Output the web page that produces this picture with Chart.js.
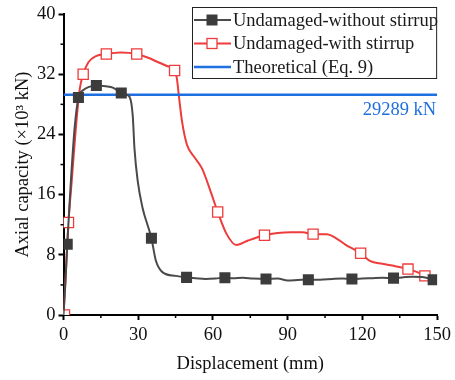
<!DOCTYPE html>
<html>
<head>
<meta charset="utf-8">
<script src="https://cdn.jsdelivr.net/npm/chart.js@4"></script>
<style>
  html, body { margin: 0; padding: 0; background: #fff; }
  #wrap { width: 455px; height: 380px; }
</style>
</head>
<body>
<div id="wrap"><canvas id="chart"></canvas></div>
<script>
// curve: undamaged, no stirrup
const blackX = [0, 0.8, 1.5, 3, 4.5, 6, 8, 10, 13.2, 17, 20, 23.2, 25, 26.5, 27.8, 28.5, 29.8, 31.7, 35.3, 37.1, 39.7, 45, 49.4, 53, 57, 61, 64.8, 68, 72, 76, 81.3, 86, 90, 94, 98.3, 103, 108, 112, 115.8, 120, 124, 128, 132.5, 136, 140, 144, 148.4];
const blackY = [0, 4.5, 9.4, 18, 25, 28.9, 29.9, 30.3, 30.5, 30.4, 30.2, 29.5, 29.3, 29.0, 26.5, 22.1, 17.8, 14.3, 10.2, 7.2, 5.7, 5.2, 5.0, 4.9, 4.8, 4.85, 4.96, 4.9, 4.95, 4.85, 4.8, 4.85, 4.6, 4.65, 4.7, 4.7, 4.8, 4.85, 4.8, 4.85, 4.9, 4.95, 4.9, 5.0, 5.1, 5.05, 4.7];
const blackMarkX = [1.5, 6, 13.2, 23.2, 35.3, 49.4, 64.8, 81.3, 98.3, 115.8, 132.5, 148.4];
const blackMarkY = [9.4, 28.9, 30.5, 29.5, 10.2, 5.0, 4.96, 4.8, 4.7, 4.8, 4.9, 4.7];

// curve: undamaged, with stirrup
const redX = [0, 1, 2, 3.3, 5, 6.5, 7.9, 10, 13, 17.2, 23, 29.4, 34, 38, 41.5, 44.6, 45.5, 46.3, 47.6, 49.6, 52.5, 55.6, 59.5, 61.9, 65.5, 69.4, 74.1, 80.7, 86, 91.3, 96, 100.2, 105.8, 109, 113, 119.3, 123, 128, 133, 138.3, 142, 145.1, 148.2];
const redY = [0, 6, 12.3, 17.8, 25, 30, 32, 33.6, 34.4, 34.7, 34.9, 34.7, 34.2, 33.6, 33.1, 32.5, 31.5, 29.2, 25.7, 22.6, 21.0, 19.5, 16.0, 13.7, 10.75, 9.3, 9.9, 10.6, 10.9, 11.0, 11.0, 10.75, 10.75, 10.3, 9.4, 8.2, 7.2, 6.8, 6.5, 6.1, 5.7, 5.2, 4.6];
const redMarkX = [0.4, 2.0, 7.9, 17.2, 29.4, 44.6, 61.9, 80.7, 100.2, 119.3, 138.3, 145.1];
const redMarkY = [0, 12.3, 32, 34.7, 34.7, 32.5, 13.7, 10.6, 10.75, 8.2, 6.1, 5.2];

// theoretical capacity (x10^3 kN)
const theoretical = 29.289;
const theoryX = [0, 150];

const xTicks = [0, 30, 60, 90, 120, 150];
const yTicks = [0, 8, 16, 24, 32, 40];

const seriesNames = ['Undamaged-without stirrup', 'Undamaged-with stirrup', 'Theoretical (Eq. 9)'];

const BLACK = '#4a4a4a';
const BLACK_MK = '#3c3c3c';
const RED = '#ee3b3b';
const BLUE = '#1f6fe0';
const FONT = '"Liberation Serif", "Times New Roman", serif';
const FS = 18.5;

const pts = (xs, ys) => xs.map((x, i) => ({ x, y: ys[i] }));

// minor ticks + legend box + the theoretical value label
const extras = {
  id: 'extras',
  afterDraw(chart) {
    const { ctx, chartArea: a, scales } = chart;
    const xs = scales.x, ys = scales.y;
    ctx.save();
    ctx.strokeStyle = '#000';
    ctx.lineWidth = 1.5;
    for (let i = 0; i < xTicks.length - 1; i++) {
      const px = xs.getPixelForValue((xTicks[i] + xTicks[i + 1]) / 2);
      ctx.beginPath(); ctx.moveTo(px, a.bottom); ctx.lineTo(px, a.bottom + 3); ctx.stroke();
    }
    for (let i = 0; i < yTicks.length - 1; i++) {
      const py = ys.getPixelForValue((yTicks[i] + yTicks[i + 1]) / 2);
      ctx.beginPath(); ctx.moveTo(a.left, py); ctx.lineTo(a.left - 3, py); ctx.stroke();
    }

    // value label under the theoretical line
    ctx.font = FS + 'px ' + FONT;
    ctx.fillStyle = BLUE;
    ctx.textAlign = 'right';
    ctx.textBaseline = 'middle';
    ctx.fillText(Math.round(theoretical * 1000) + ' kN', a.right - 1, ys.getPixelForValue(theoretical) + 15);

    // legend
    const L = 192, T = 7, R = a.right, B = 79;
    ctx.fillStyle = '#fff';
    ctx.fillRect(L, T, R - L, B - T);
    ctx.strokeStyle = '#222';
    ctx.lineWidth = 1;
    ctx.strokeRect(L + 0.5, T + 0.5, R - L - 1, B - T - 1);
    const rows = [20, 43.5, 67];
    const colors = [BLACK, RED, BLUE];
    rows.forEach((ry, i) => {
      ctx.strokeStyle = colors[i];
      ctx.lineWidth = i === 2 ? 2.5 : 2;
      ctx.beginPath(); ctx.moveTo(L + 2, ry); ctx.lineTo(L + 39, ry); ctx.stroke();
      const mx = L + 20;
      if (i === 0) {
        ctx.fillStyle = BLACK_MK;
        ctx.fillRect(mx - 5.5, ry - 5.5, 11, 11);
      } else if (i === 1) {
        ctx.fillStyle = '#fff';
        ctx.fillRect(mx - 5, ry - 5, 10, 10);
        ctx.strokeStyle = RED;
        ctx.lineWidth = 1.3;
        ctx.strokeRect(mx - 5, ry - 5, 10, 10);
      }
      ctx.fillStyle = '#1a1a1a';
      ctx.textAlign = 'left';
      ctx.textBaseline = 'middle';
      ctx.font = FS + 'px ' + FONT;
      ctx.fillText(seriesNames[i], L + 41, ry + 1);
    });
    ctx.restore();
  }
};

new Chart(document.getElementById('chart'), {
  type: 'scatter',
  data: {
    datasets: [
      {
        label: seriesNames[0] + ' markers',
        data: pts(blackMarkX, blackMarkY),
        showLine: false,
        pointStyle: 'rect',
        pointRadius: 7.8,
        pointBackgroundColor: BLACK_MK,
        pointBorderColor: BLACK_MK,
        pointBorderWidth: 0,
        order: 0
      },
      {
        label: seriesNames[0],
        data: pts(blackX, blackY),
        showLine: true,
        borderColor: BLACK,
        borderWidth: 2,
        pointRadius: 0,
        cubicInterpolationMode: 'monotone',
        order: 1
      },
      {
        label: seriesNames[2],
        data: theoryX.map(x => ({ x, y: theoretical })),
        showLine: true,
        borderColor: BLUE,
        borderWidth: 2.5,
        pointRadius: 0,
        order: 2
      },
      {
        label: seriesNames[1] + ' markers',
        data: pts(redMarkX, redMarkY),
        showLine: false,
        pointStyle: 'rect',
        pointRadius: 7.2,
        pointBackgroundColor: '#fff',
        pointBorderColor: RED,
        pointBorderWidth: 1.3,
        order: 3
      },
      {
        label: seriesNames[1],
        data: pts(redX, redY),
        showLine: true,
        borderColor: RED,
        borderWidth: 2,
        pointRadius: 0,
        cubicInterpolationMode: 'monotone',
        order: 4
      }
    ]
  },
  options: {
    responsive: true,
    maintainAspectRatio: false,
    animation: false,
    events: [],
    layout: { padding: { top: 11, right: 13, left: 0, bottom: 0 } },
    plugins: {
      legend: { display: false },
      tooltip: { enabled: false }
    },
    scales: {
      x: {
        type: 'linear',
        min: 0, max: 150,
        afterBuildTicks: s => { s.ticks = xTicks.map(v => ({ value: v })); },
        afterFit: s => { s.height = 65; },
        ticks: { color: '#111', font: { family: FONT, size: FS }, padding: 4, maxRotation: 0 },
        grid: { drawOnChartArea: false, tickLength: 5, tickWidth: 2, tickColor: '#000' },
        border: { color: '#000', width: 2 },
        title: { display: true, text: 'Displacement (mm)', color: '#111', font: { family: FONT, size: FS }, padding: { top: 0, bottom: 5 } }
      },
      y: {
        type: 'linear',
        min: 0, max: 40,
        afterBuildTicks: s => { s.ticks = yTicks.map(v => ({ value: v })); },
        afterFit: s => { s.width = 63.5; },
        ticks: { color: '#111', font: { family: FONT, size: FS }, padding: 3 },
        grid: { drawOnChartArea: false, tickLength: 5, tickWidth: 2, tickColor: '#000' },
        border: { color: '#000', width: 2 },
        title: { display: true, text: 'Axial capacity (×10³ kN)', color: '#111', font: { family: FONT, size: FS }, padding: { top: 12, bottom: 0 } }
      }
    }
  },
  plugins: [extras]
});
</script>
</body>
</html>
